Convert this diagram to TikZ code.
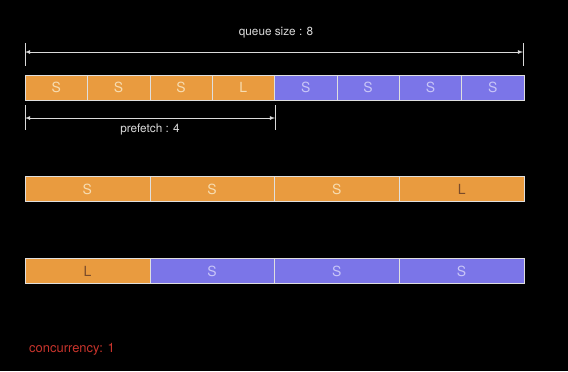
\documentclass[tikz,border=0pt]{standalone}
\usepackage{fontspec}
\setmainfont{TeX Gyre Heros}
\usetikzlibrary{arrows,positioning}
\definecolor{slotorange}{HTML}{E99B3F}
\definecolor{slotblue}{HTML}{7B75E8}
\definecolor{lightS}{HTML}{F7DDB2}
\definecolor{lavS}{HTML}{C9C6F7}
\definecolor{darkL}{HTML}{7A4B2A}
\definecolor{dimgray}{HTML}{DADADA}
\definecolor{concred}{HTML}{C8342C}
\tikzstyle{slot} = [draw=white!75!gray,line width=0.5pt,minimum height=25bp,inner sep=0pt,font=\fontsize{14}{14}\selectfont]
\tikzstyle{small} = [slot,minimum width=62.375bp]
\tikzstyle{wide} = [slot,minimum width=124.75bp]
\tikzstyle{loaded} = [fill=slotorange,text=lightS]
\tikzstyle{free} = [fill=slotblue,text=lavS]
\tikzstyle{big} = [fill=slotorange,text=darkL]
\tikzstyle{tick} = [draw=dimgray,line width=0.8pt]
\tikzstyle{span} = [draw=dimgray,line width=0.8pt,arrows={latex-latex}]
\tikzstyle{caption} = [text=dimgray,font=\fontsize{11.8}{12}\selectfont]

\begin{document}
\begin{tikzpicture}[x=1bp,y=-1bp]
		\fill[black] (0,0) rectangle (568,371);
		\useasboundingbox (0,0) rectangle (568,371);

		% queue of eight slots
		\node (q1)[small,loaded] at (56.19,87.5) {S};
		\node (q2)[small,loaded] at (118.56,87.5) {S};
		\node (q3)[small,loaded] at (180.94,87.5) {S};
		\node (q4)[small,loaded] at (243.31,87.5) {L};
		\node (q5)[small,free] at (305.69,87.5) {S};
		\node (q6)[small,free] at (368.06,87.5) {S};
		\node (q7)[small,free] at (430.44,87.5) {S};
		\node (q8)[small,free] at (492.81,87.5) {S};

		% queue size marker
		\coordinate (qa) at (25,43);
		\coordinate (qb) at (25,66);
		\coordinate (qc) at (523,43);
		\coordinate (qd) at (523,66);
		\coordinate (ql) at (25,52);
		\coordinate (qr) at (523,52);
		\draw[tick] (qa) -- (qb);
		\draw[tick] (qc) -- (qd);
		\draw[span] (ql) -- (qr);
		\node (qsize)[caption] at (276,33) {queue size : 8};

		% prefetch marker
		\coordinate (pa) at (25,105);
		\coordinate (pb) at (25,130);
		\coordinate (pc) at (275,105);
		\coordinate (pd) at (275,130);
		\coordinate (pl) at (25,118);
		\coordinate (pr) at (275,118);
		\draw[tick] (pa) -- (pb);
		\draw[tick] (pc) -- (pd);
		\draw[span] (pl) -- (pr);
		\node (pfetch)[caption] at (150,129) {prefetch : 4};

		% prefetched slots
		\node (p1)[wide,loaded] at (87.38,189) {S};
		\node (p2)[wide,loaded] at (212.13,189) {S};
		\node (p3)[wide,loaded] at (336.88,189) {S};
		\node (p4)[wide,big] at (461.63,189) {L};

		% processing slots
		\node (c1)[wide,big] at (87.38,271) {L};
		\node (c2)[wide,free] at (212.13,271) {S};
		\node (c3)[wide,free] at (336.88,271) {S};
		\node (c4)[wide,free] at (461.63,271) {S};

		\node (conc)[anchor=west,text=concred,inner sep=0pt,font=\fontsize{13}{13}\selectfont] at (29,349) {concurrency: 1};
	\end{tikzpicture}
\end{document}
